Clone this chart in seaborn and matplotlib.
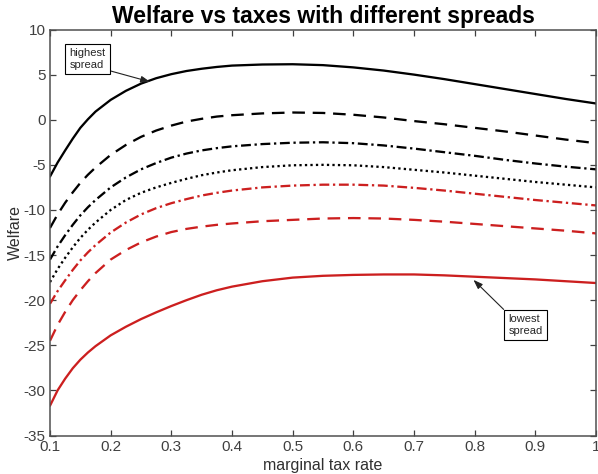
import numpy as np
import pandas as pd
import matplotlib
matplotlib.use("Agg")
import matplotlib.pyplot as plt
import seaborn as sns

# Marginal tax rate grid (finer where the curves bend sharply)
tax_rate = [0.1, 0.1125, 0.125, 0.1375, 0.15, 0.1625, 0.175, 0.2, 0.225, 0.25,
            0.275, 0.3, 0.325, 0.35, 0.375, 0.4, 0.45, 0.5, 0.55, 0.6, 0.65,
            0.7, 0.75, 0.8, 0.85, 0.9, 0.95, 1.0]

# Welfare for each spread, from highest to lowest
welfare_s1 = [-6.3, -4.75, -3.4, -2.1, -0.9, 0.05, 0.9, 2.2, 3.2, 4.0,
              4.6, 5.05, 5.4, 5.65, 5.85, 6.0, 6.12, 6.15, 6.05, 5.8, 5.45,
              5.0, 4.5, 3.95, 3.4, 2.85, 2.3, 1.8]
welfare_s2 = [-12.0, -10.5, -9.2, -8.05, -7.0, -6.1, -5.3, -3.9, -2.8, -1.9,
              -1.2, -0.65, -0.2, 0.1, 0.35, 0.5, 0.7, 0.8, 0.75, 0.55, 0.25,
              -0.15, -0.5, -0.9, -1.3, -1.75, -2.2, -2.6]
welfare_s3 = [-15.5, -14.05, -12.8, -11.65, -10.6, -9.7, -8.9, -7.5, -6.4, -5.5,
              -4.8, -4.2, -3.75, -3.4, -3.15, -2.95, -2.7, -2.55, -2.5, -2.6, -2.85,
              -3.2, -3.6, -4.0, -4.45, -4.85, -5.2, -5.5]
welfare_s4 = [-18.0, -16.55, -15.3, -14.15, -13.1, -12.2, -11.4, -10.0, -8.9, -8.1,
              -7.5, -7.0, -6.55, -6.15, -5.85, -5.6, -5.25, -5.05, -5.0, -5.05, -5.25,
              -5.55, -5.85, -6.2, -6.55, -6.9, -7.2, -7.5]
welfare_s5 = [-20.4, -19.0, -17.8, -16.65, -15.6, -14.7, -13.9, -12.5, -11.4, -10.5,
              -9.8, -9.25, -8.8, -8.4, -8.1, -7.85, -7.5, -7.3, -7.2, -7.2, -7.3,
              -7.55, -7.85, -8.2, -8.55, -8.9, -9.2, -9.5]
welfare_s6 = [-24.5, -22.75, -21.3, -20.0, -18.9, -17.9, -17.0, -15.5, -14.45, -13.6,
              -12.95, -12.45, -12.1, -11.85, -11.65, -11.5, -11.25, -11.1, -10.95, -10.9, -10.95,
              -11.1, -11.3, -11.55, -11.8, -12.05, -12.3, -12.6]
welfare_s7 = [-31.7, -30.0, -28.7, -27.55, -26.6, -25.8, -25.1, -23.9, -22.95, -22.1,
              -21.35, -20.65, -20.0, -19.4, -18.9, -18.5, -17.9, -17.5, -17.3, -17.2, -17.15,
              -17.15, -17.25, -17.4, -17.55, -17.7, -17.9, -18.1]

x_ticks = [0.1, 0.2, 0.3, 0.4, 0.5, 0.6, 0.7, 0.8, 0.9, 1.0]
x_tick_labels = ["0.1", "0.2", "0.3", "0.4", "0.5", "0.6", "0.7", "0.8", "0.9", "1"]
y_ticks = [-35, -30, -25, -20, -15, -10, -5, 0, 5, 10]

series = [welfare_s1, welfare_s2, welfare_s3, welfare_s4,
          welfare_s5, welfare_s6, welfare_s7]

BLACK = "#000000"
RED = "#cc1f1f"
dash = (0, (5.5, 3.4))
dashdot = (0, (4.3, 1.6, 1.0, 1.6))
dot = (0, (1.0, 1.4))
styles = [
    (BLACK, "-"),
    (BLACK, dash),
    (BLACK, dashdot),
    (BLACK, dot),
    (RED, dashdot),
    (RED, dash),
    (RED, "-"),
]

sns.set_theme(style="ticks")
plt.rcParams["font.family"] = ["Liberation Sans", "DejaVu Sans"]
plt.rcParams["axes.unicode_minus"] = False

fig = plt.figure(figsize=(5.98, 4.74), dpi=100)
ax = fig.add_axes([50 / 598, 38.5 / 474, 546 / 598, 406 / 474])

for values, (color, ls) in zip(series, styles):
    df = pd.DataFrame({"tax": tax_rate, "welfare": values})
    sns.lineplot(data=df, x="tax", y="welfare", ax=ax, color=color,
                 linestyle=ls, linewidth=1.65, estimator=None, sort=False)

ax.set_xlim(0.1, 1.0)
ax.set_ylim(-35, 10)
ax.set_xticks(x_ticks)
ax.set_xticklabels(x_tick_labels)
ax.set_yticks(y_ticks)

ax.tick_params(direction="in", length=4, width=0.9, colors="#404040",
               labelsize=11, top=True, right=True, pad=3)
for side in ["top", "right", "bottom", "left"]:
    ax.spines[side].set_visible(True)
    ax.spines[side].set_color("#505050")
    ax.spines[side].set_linewidth(1.1)

ax.set_xlabel("marginal tax rate", fontsize=11.5, color="#303030", labelpad=3)
ax.set_ylabel("Welfare", fontsize=11.5, color="#303030", labelpad=1)
ax.set_title("Welfare vs taxes with different spreads", fontsize=16.5,
             fontweight="bold", color="black", pad=5)

box = dict(boxstyle="square,pad=0.4", facecolor="white", edgecolor="black",
           linewidth=0.8)
ax.annotate("highest\nspread", xy=(0.265, 4.2), xytext=(0.162, 6.75),
            fontsize=8, ha="center", va="center", multialignment="left",
            bbox=box,
            arrowprops=dict(arrowstyle="-|>,head_length=0.7,head_width=0.25",
                            color="#222222", lw=0.8, relpos=(1, 0),
                            shrinkA=0, shrinkB=0))
ax.annotate("lowest\nspread", xy=(0.798, -17.75), xytext=(0.884, -22.75),
            fontsize=8, ha="center", va="center", multialignment="left",
            bbox=box,
            arrowprops=dict(arrowstyle="-|>,head_length=0.7,head_width=0.25",
                            color="#222222", lw=0.8, relpos=(0, 1),
                            shrinkA=0, shrinkB=0))

fig.savefig("out.png", dpi=100)
